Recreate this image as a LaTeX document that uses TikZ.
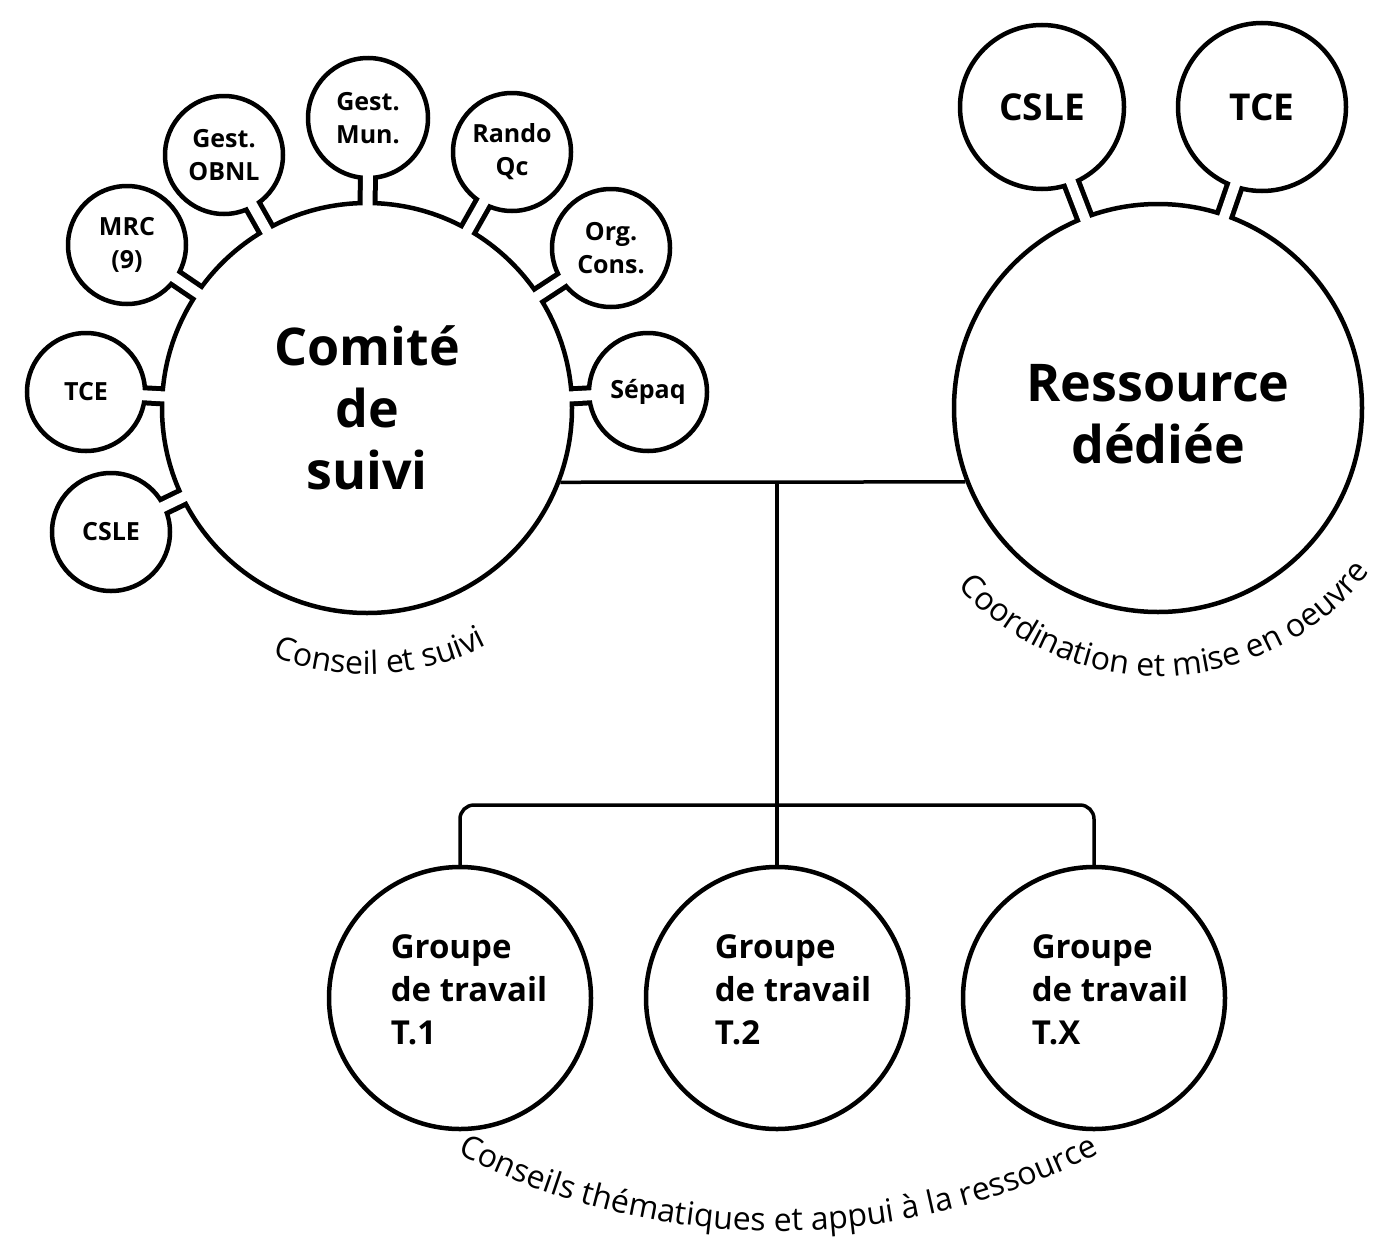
\documentclass[tikz,border=0pt]{standalone}
\usepackage{fontspec}
\setmainfont{Open Sans}
\usetikzlibrary{decorations.text}

\newcommand\cmtfont{\bfseries\fontsize{52}{62}\selectfont}
\newcommand\satfont{\bfseries\fontsize{25}{33}\selectfont}
\newcommand\bigsatfont{\bfseries\fontsize{37}{44}\selectfont}
\newcommand\grpfont{\bfseries\fontsize{33}{43}\selectfont}
\newcommand\arcfont{\fontsize{32}{32}\selectfont}

\tikzset{
  bubble/.style={circle, draw, line width=4.5pt, fill=white, inner sep=0pt,
    align=center, font=\satfont},
  grptext/.style={align=left, inner sep=0pt, font=\grpfont},
  neckout/.style={line width=20pt, shorten <=-3pt, shorten >=-3pt},
  neckin/.style={white, line width=10pt, shorten <=-8pt, shorten >=-8pt},
  link/.style={line width=3.5pt},
}

\begin{document}
\begin{tikzpicture}[x=1pt, y=1pt]
  \useasboundingbox (0,0) rectangle (1392,-1258);

  % main circles
  \node[bubble, minimum size=410pt, font=\cmtfont] (comite) at (367,-408) {Comité\\de\\suivi};
  \node[bubble, minimum size=408pt] (ressource) at (1158,-408) {};
  \node[font=\cmtfont, align=center] (restxt) at (1158,-414) {Ressource\\dédiée};

  % members of the comite
  \node[bubble, minimum size=120pt] (gmun) at (368,-118) {Gest.\\Mun.};
  \node[bubble, minimum size=118pt] (gobnl) at (224,-155) {Gest.\\OBNL};
  \node[bubble, minimum size=118pt] (rando) at (512,-152) {Rando\\Qc};
  \node[bubble, minimum size=118pt] (mrc) at (127,-245) {MRC\\(9)};
  \node[bubble, minimum size=118pt] (orgc) at (611,-248) {Org.\\Cons.};
  \node[bubble, minimum size=118pt] (tcea) at (86,-392) {TCE};
  \node[bubble, minimum size=118pt] (sepaq) at (648,-392) {Sépaq};
  \node[bubble, minimum size=118pt] (cslea) at (111,-532) {CSLE};

  % partners of the ressource
  \node[bubble, minimum size=164pt, font=\bigsatfont] (csleb) at (1042,-107) {CSLE};
  \node[bubble, minimum size=168pt, font=\bigsatfont] (tceb) at (1262,-107) {TCE};

  % working groups
  \node[bubble, minimum size=262pt] (g1) at (460,-998) {};
  \node[bubble, minimum size=262pt] (g2) at (777,-998) {};
  \node[bubble, minimum size=262pt] (g3) at (1094,-998) {};
  \node[grptext] (t1) at ([shift={(9,8)}]g1.center) {Groupe\\de travail\\T.1};
  \node[grptext] (t2) at ([shift={(16,8)}]g2.center) {Groupe\\de travail\\T.2};
  \node[grptext] (t3) at ([shift={(16,8)}]g3.center) {Groupe\\de travail\\T.X};

  % necks
  \foreach \s in {gmun,gobnl,rando,mrc,orgc,tcea,sepaq,cslea} {
    \draw[neckout] (\s) -- (comite);
    \draw[neckin] (\s) -- (comite);
  }
  \foreach \s in {csleb,tceb} {
    \draw[neckout] (\s) -- (ressource);
    \draw[neckin] (\s) -- (ressource);
  }

  % links
  \coordinate (jct) at (777,-482);
  \coordinate (bar) at (777,-805);
  \draw[link] (comite.-21) -- (ressource.201);
  \draw[link] (jct) -- (g2.north);
  \draw[link, rounded corners=14pt] (g1.north) |- (bar) -| (g3.north);

  % curved captions
  \coordinate (arcc) at (778,-526);
  \path[decorate, decoration={text along path, text align=center,
      text={|\arcfont|Conseil et suivi}}]
    (comite.center) ++(225:266) arc[start angle=225, end angle=321, radius=266];
  \path[decorate, decoration={text along path, text align=center,
      text={|\arcfont|Coordination et mise en oeuvre}}]
    (ressource.center) ++(200:268) arc[start angle=200, end angle=344, radius=268];
  \path[decorate, decoration={text along path, text align=center,
      text={|\arcfont|Conseils thématiques et appui à la ressource}}]
    (arcc) ++(232:705) arc[start angle=232, end angle=308, radius=705];
\end{tikzpicture}
\end{document}
